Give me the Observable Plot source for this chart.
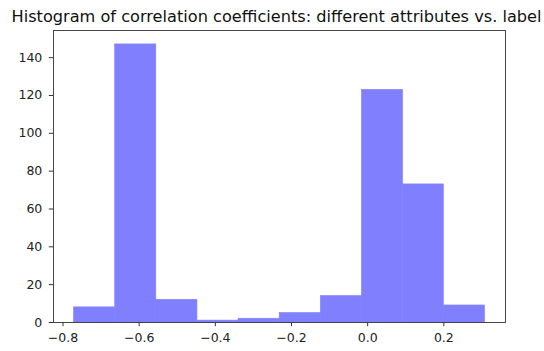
<!DOCTYPE html>
<html>
<head>
<meta charset="utf-8">
<script src="https://cdn.jsdelivr.net/npm/d3@7"></script>
<script src="https://cdn.jsdelivr.net/npm/@observablehq/plot@0.6"></script>
<style>
  html, body { margin: 0; padding: 0; background: #fff; }
  svg { overflow: visible; }
</style>
</head>
<body>
<div id="chart"></div>
<script>
const titleText = "Histogram of correlation coefficients: different attributes vs. label";
const binEdges = [-0.771, -0.663, -0.555, -0.447, -0.339, -0.231, -0.123, -0.015, 0.093, 0.200, 0.308];
const counts = [8, 147, 12, 1, 2, 5, 14, 123, 73, 9];
const xTicks = [-0.8, -0.6, -0.4, -0.2, 0.0, 0.2];
const yTicks = [0, 20, 40, 60, 80, 100, 120, 140];

const bins = counts.map((c, i) => ({x1: binEdges[i], x2: binEdges[i + 1], count: c}));
const lo = binEdges[0], hi = binEdges[binEdges.length - 1];
const pad = (hi - lo) * 0.05;
const font = "DejaVu Sans, sans-serif";

const plot = Plot.plot({
  width: 544,
  height: 351,
  marginLeft: 53,
  marginRight: 39,
  marginTop: 30,
  marginBottom: 29,
  style: {fontFamily: font, background: "#fff", color: "#222"},
  x: {domain: [lo - pad, hi + pad], ticks: xTicks, tickFormat: d3.format(".1f")},
  y: {domain: [0, d3.max(counts) * 1.05], ticks: yTicks},
  marks: [
    Plot.rect(bins, {x1: "x1", x2: "x2", y1: 0, y2: "count", fill: "#8080ff", stroke: "#8080ff", strokeWidth: 0.6, inset: 0}),
    Plot.frame({stroke: "#333", strokeWidth: 0.9}),
    Plot.axisX({ticks: xTicks, tickFormat: d3.format(".1f"), tickSize: 4.2, tickPadding: 6, fontSize: 12.5, label: null, stroke: "#333"}),
    Plot.axisY({ticks: yTicks, tickSize: 4.2, tickPadding: 7, fontSize: 12.5, label: null, stroke: "#333"}),
    Plot.text([titleText], {text: d => d, frameAnchor: "top", dy: -9, dx: -3, fontSize: 15, fill: "#111", lineAnchor: "bottom", className: "chart-title"})
  ]
});
document.getElementById("chart").appendChild(plot);
const t = plot.querySelector(".chart-title text");
if (t) { t.setAttribute("textLength", "530"); t.setAttribute("lengthAdjust", "spacingAndGlyphs"); }
</script>
</body>
</html>
